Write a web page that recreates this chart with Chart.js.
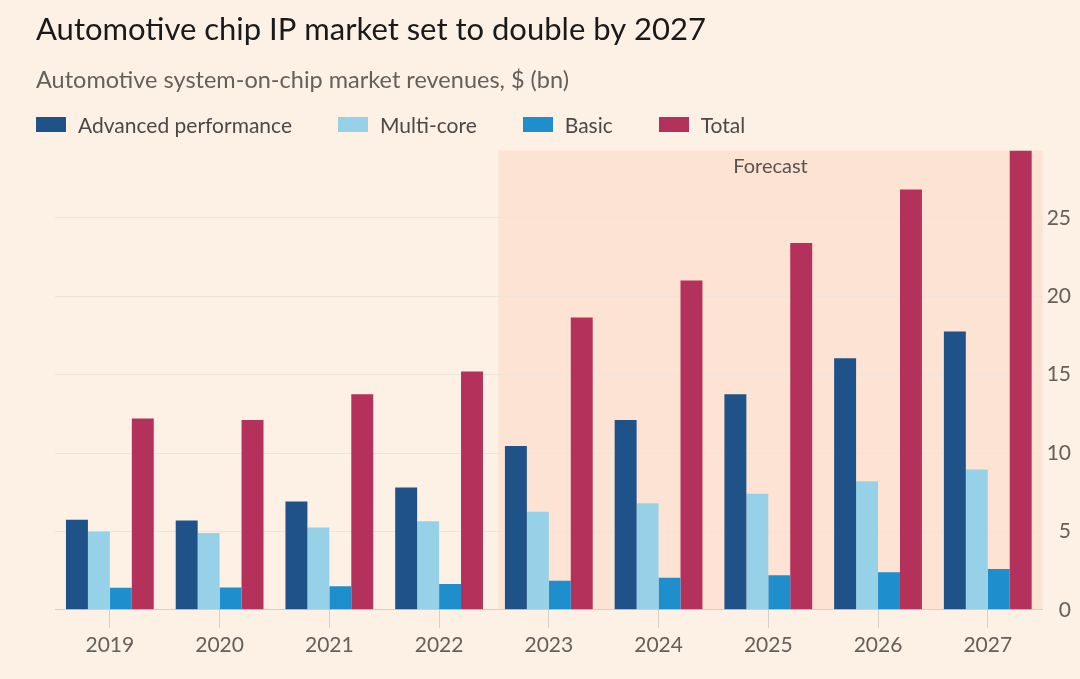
<!DOCTYPE html>
<html>
<head>
<meta charset="utf-8">
<script src="https://cdn.jsdelivr.net/npm/chart.js@4.4.1/dist/chart.umd.min.js"></script>
<style>
  html, body { margin: 0; padding: 0; background: #fdf0e5; }
  #wrap { width: 1080px; height: 679px; position: relative; }
  #legend {
    position: absolute; left: 36px; top: 112px; display: flex; align-items: center;
    font-family: Lato, "Noto Sans", sans-serif; font-size: 21px; color: #4d4845;
  }
  #legend .item { display: flex; align-items: center; margin-right: 46px; }
  #legend .swatch { width: 30px; height: 15px; margin-right: 12px; }
</style>
</head>
<body>
<div id="wrap">
  <canvas id="chart"></canvas>
  <div id="legend"></div>
</div>
<script>
// --- data ---
const years = ["2019", "2020", "2021", "2022", "2023", "2024", "2025", "2026", "2027"];
const advanced = [5.75, 5.7, 6.9, 7.8, 10.45, 12.1, 13.75, 16.05, 17.75];
const multiCore = [5.0, 4.9, 5.25, 5.65, 6.25, 6.8, 7.4, 8.2, 8.95];
const basic = [1.4, 1.42, 1.5, 1.65, 1.85, 2.05, 2.2, 2.4, 2.6];
const total = [12.2, 12.1, 13.75, 15.2, 18.65, 21.0, 23.4, 26.8, 29.3];
const yTicks = [0, 5, 10, 15, 20, 25];
const forecastStart = "2023";

const FONT = "Lato, 'Noto Sans', sans-serif";

// shaded forecast block + its label
const forecastShade = {
  id: "forecastShade",
  beforeDraw(chart) {
    const { ctx, chartArea, scales } = chart;
    const idx = years.indexOf(forecastStart);
    const x0 = scales.x.getPixelForValue(idx - 0.46);
    ctx.save();
    ctx.fillStyle = "#fde3d3";
    ctx.fillRect(x0, chartArea.top, chartArea.right - x0, chartArea.bottom - chartArea.top);
    ctx.restore();
  },
  afterDatasetsDraw(chart) {
    const { ctx, chartArea, scales } = chart;
    const idx = years.indexOf(forecastStart);
    const x0 = scales.x.getPixelForValue(idx - 0.46);
    ctx.save();
    ctx.fillStyle = "#5a524c";
    ctx.font = "20px " + FONT;
    ctx.textAlign = "center";
    ctx.textBaseline = "middle";
    ctx.fillText("Forecast", (x0 + chartArea.right) / 2, chartArea.top + 16);
    ctx.restore();
  }
};

const chart = new Chart(document.getElementById("chart"), {
  type: "bar",
  data: {
    labels: years,
    datasets: [
      { label: "Advanced performance", data: advanced, backgroundColor: "#1f5289", yAxisID: "y" },
      { label: "Multi-core", data: multiCore, backgroundColor: "#97d1e7", yAxisID: "y" },
      { label: "Basic", data: basic, backgroundColor: "#1f8ecd", yAxisID: "y" },
      { label: "Total", data: total, backgroundColor: "#b4315c", yAxisID: "y" },
    ],
  },
  options: {
    responsive: true,
    maintainAspectRatio: false,
    animation: false,
    datasets: { bar: { categoryPercentage: 0.8, barPercentage: 1.0 } },
    layout: { padding: { left: 36, right: 9, top: 0, bottom: 16 } },
    scales: {
      x: {
        grid: { offset: false, drawOnChartArea: false, tickLength: 18, color: "#d8cfc7" },
        border: { display: false },
        ticks: { font: { family: FONT, size: 21 }, color: "#66605a", padding: 5 },
      },
      y: {
        position: "right",
        min: 0,
        max: 29.3,
        afterBuildTicks: (s) => { s.ticks = yTicks.map((v) => ({ value: v })); },
        grid: {
          drawTicks: false,
          color: (c) => (c.tick && c.tick.value === 0 ? "#d8cfc7" : "#f2e3d8"),
        },
        border: { display: false },
        ticks: { font: { family: FONT, size: 21 }, color: "#66605a", padding: 2, crossAlign: "far" },
      },
      // empty left gutter so the plot starts a little right of the title
      spacer: {
        position: "left",
        min: 0,
        max: 1,
        grid: { display: false },
        border: { display: false },
        ticks: { display: false },
        afterFit: (s) => { s.width = 19; },
      },
    },
    plugins: {
      title: {
        display: true,
        text: "Automotive chip IP market set to double by 2027",
        align: "start",
        color: "#1a1a1a",
        font: { family: FONT, size: 31, weight: "normal" },
        padding: { top: 11, bottom: 18 },
      },
      subtitle: {
        display: true,
        text: "Automotive system-on-chip market revenues, $ (bn)",
        align: "start",
        color: "#66605a",
        font: { family: FONT, size: 23.5, weight: "normal" },
        padding: { bottom: 56 },
      },
      legend: { display: false },
      tooltip: { enabled: false },
    },
  },
  plugins: [forecastShade],
});

// legend built from the chart's own datasets
const legendEl = document.getElementById("legend");
chart.data.datasets.forEach((ds) => {
  const item = document.createElement("div");
  item.className = "item";
  const sw = document.createElement("span");
  sw.className = "swatch";
  sw.style.background = ds.backgroundColor;
  const txt = document.createElement("span");
  txt.textContent = ds.label;
  item.appendChild(sw);
  item.appendChild(txt);
  legendEl.appendChild(item);
});
</script>
</body>
</html>
